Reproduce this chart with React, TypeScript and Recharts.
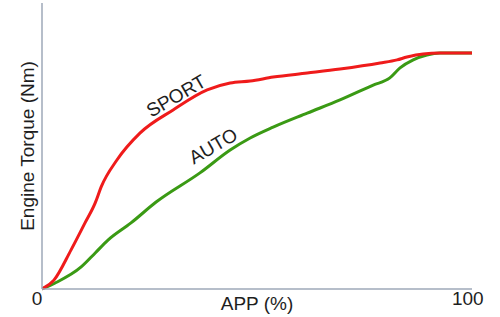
import { Line, LineChart, ReferenceDot, XAxis, YAxis } from "recharts"

// APP (%) vs engine torque
const SPORT_APP = [0, 2.8, 6.8, 10.1, 12.5, 13.9, 17.6, 23.0, 30.8, 38.8, 44.2, 48.9, 54.3, 62.3, 70.0, 79.4, 83.4, 85.7, 89.5, 93.5, 101]
const SPORT_TORQUE = [0, 3.1, 13.6, 23.1, 30.1, 35.7, 45.1, 54.5, 62.6, 69.6, 72.0, 72.7, 74.1, 75.5, 76.9, 79.0, 80.1, 81.1, 82.2, 82.5, 82.5]

const AUTO_APP = [0, 3.1, 9.2, 12.5, 15.5, 20.9, 26.8, 37.1, 44.2, 48.9, 54.3, 62.3, 70.0, 77.8, 81.7, 84.1, 87.2, 90.4, 93.5, 101]
const AUTO_TORQUE = [0, 2.1, 7.7, 12.6, 17.1, 23.1, 30.4, 40.6, 48.6, 52.8, 56.6, 61.5, 66.1, 71.3, 73.8, 77.3, 80.1, 81.8, 82.5, 82.5]

const X_TICKS = [0, 100]

const SPORT_LABEL = { text: "SPORT", app: 31.5, torque: 67.5 }
const AUTO_LABEL = { text: "AUTO", app: 40.2, torque: 50 }

const sportData = SPORT_APP.map((app, i) => ({ app, torque: SPORT_TORQUE[i] }))
const autoData = AUTO_APP.map((app, i) => ({ app, torque: AUTO_TORQUE[i] }))

const AXIS_COLOR = "#9ea9b8"
const TEXT_COLOR = "#1e1e1e"
const FONT = '"Liberation Sans", Arial, sans-serif'

function AppTick({ x, y, payload }: any) {
  const v = payload.value
  return (
    <text x={x + (v === 0 ? -5 : 0)} y={y} dy={14} textAnchor="middle" fontSize={19} fill={TEXT_COLOR} fontFamily={FONT}>
      {v}
    </text>
  )
}

function CurveLabel({ viewBox, text }: any) {
  const { x, y } = viewBox
  return (
    <text
      x={x}
      y={y}
      textAnchor="middle"
      dominantBaseline="central"
      fontSize={19}
      fill={TEXT_COLOR}
      fontFamily={FONT}
      transform={`rotate(-30 ${x} ${y})`}
    >
      {text}
    </text>
  )
}

function YTitle({ viewBox }: any) {
  const x = viewBox.x + viewBox.width - 15
  const y = viewBox.y + viewBox.height / 2
  return (
    <text x={x} y={y} textAnchor="middle" dominantBaseline="central" fontSize={19} fill={TEXT_COLOR} fontFamily={FONT} transform={`rotate(-90 ${x} ${y})`}>
      Engine Torque (Nm)
    </text>
  )
}

function XTitle({ viewBox }: any) {
  const x = viewBox.x + viewBox.width / 2
  return (
    <text x={x} y={viewBox.y + 21} textAnchor="middle" fontSize={19} fill={TEXT_COLOR} fontFamily={FONT}>
      APP (%)
    </text>
  )
}

export default function App() {
  return (
    <div style={{ position: "absolute", left: 0, top: 0, background: "#fff", fontFamily: FONT }}>
      <LineChart width={500} height={317} margin={{ top: 3, right: 28, left: 41, bottom: 0 }}>
        <XAxis
          dataKey="app"
          type="number"
          domain={[0, 101]}
          ticks={X_TICKS}
          tick={<AppTick />}
          tickLine={false}
          tickSize={0}
          stroke={AXIS_COLOR}
          strokeWidth={1.5}
          height={28}
          allowDataOverflow
          label={{ content: (p: any) => <XTitle {...p} /> }}
        />
        <YAxis
          type="number"
          domain={[0, 100]}
          tick={false}
          tickLine={false}
          width={1}
          stroke={AXIS_COLOR}
          strokeWidth={1.5}
          label={{ content: (p: any) => <YTitle {...p} /> }}
        />
        <Line
          data={autoData}
          dataKey="torque"
          type="monotone"
          stroke="#3a9a14"
          strokeWidth={3}
          dot={false}
          isAnimationActive={false}
        />
        <Line
          data={sportData}
          dataKey="torque"
          type="monotone"
          stroke="#ef1b1b"
          strokeWidth={3}
          dot={false}
          isAnimationActive={false}
        />
        <ReferenceDot
          x={SPORT_LABEL.app}
          y={SPORT_LABEL.torque}
          r={0}
          label={(p: any) => <CurveLabel {...p} text={SPORT_LABEL.text} />}
        />
        <ReferenceDot
          x={AUTO_LABEL.app}
          y={AUTO_LABEL.torque}
          r={0}
          label={(p: any) => <CurveLabel {...p} text={AUTO_LABEL.text} />}
        />
      </LineChart>
    </div>
  )
}
